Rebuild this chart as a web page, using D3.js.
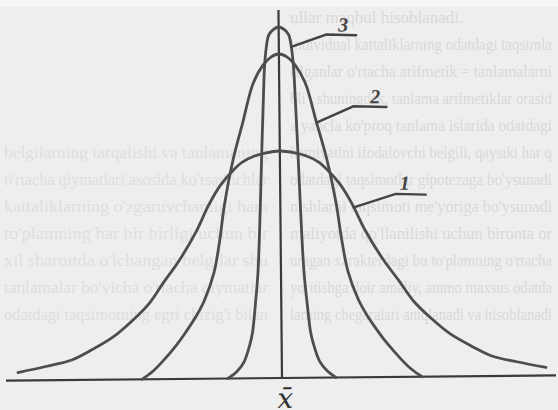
<!DOCTYPE html>
<html>
<head>
<meta charset="utf-8">
<script src="https://cdn.jsdelivr.net/npm/d3@7"></script>
<style>
  html, body { margin: 0; padding: 0; background: #eeeeee; }
  svg { display: block; }
</style>
</head>
<body>
<svg id="chart" width="558" height="410"></svg>
<script>
// Three distribution curves around a common mean x̄.
// Each curve: heights above the baseline and the half-spread at that height.
const curveNames = ["1", "2", "3"];
const curve1Height = [11.35, 11.25, 11.1, 10.8, 10.4, 9.65, 8.65, 7.4, 5.9, 4.8, 3.8, 2.9, 2.15, 1.5, 1.0, 0.7, 0.4];
const curve1Spread = [0, 0.75, 1.3, 1.9, 2.35, 3.0, 3.6, 4.2, 5.1, 5.9, 6.6, 7.5, 8.4, 9.5, 10.5, 11.75, 13.2];
const curve2Height = [16.2, 16.05, 15.65, 14.75, 12.75, 10.9, 8.65, 6.9, 5.3, 3.9, 3.15, 2.25, 1.65, 0.9, 0.4, 0];
const curve2Spread = [0, 0.4, 0.8, 1.3, 1.85, 2.35, 2.8, 3.05, 3.35, 3.85, 4.25, 4.85, 5.3, 5.95, 6.45, 7.0];
const curve3Height = [17.55, 17.4, 17.15, 16.55, 15.55, 13.9, 11.4, 8.65, 5.3, 3.65, 2.3, 1.65, 0.8, 0.35, 0];
const curve3Spread = [0, 0.3, 0.5, 0.625, 0.725, 0.8, 0.9, 1.0, 1.15, 1.3, 1.45, 1.6, 1.9, 2.25, 2.7];
// Height on each curve where its numbered leader line starts
const leaderHeight = [8.5, 12.75, 16.55];
// Extent of the horizontal axis and the mean line
const axisExtent = [-13.8, 13.7];
const meanLineTop = 18.4;
const meanLabel = "x\u0304";

// Page text lines showing faintly behind the figure
const pageLinesRight = [
  "ullar maqbul hisoblanadi.",
  "individual kattaliklarning odatdagi taqsimla",
  "rilganlar o'rtacha arifmetik = tanlamalarni",
  "bli , shuningdek, tanlama arifmetiklar orasid",
  "a yancla ko'proq tanlama islarida odatdagi",
  "hamiyatini ifodalovchi belgili, qaysiki har q",
  "odatdagi taqsimotlar gipotezaga bo'ysunadi",
  "nishlarni taqsimoti me'yoriga bo'ysunadi",
  "maliyotda qo'llanilishi uchun bironta or",
  "uragan xarakterdagi bu to'plamning o'rtacha",
  "yoritishga doir amaliy, ammo maxsus odatda",
  "larning chegaralari aniqlanadi va hisoblanadi"
];
const pageLinesLeft = [
  "", "", "", "", "",
  "belgilarning tarqalishi va tanlamaning",
  "o'rtacha qiymatlari asosida ko'rsatkichlar",
  "kattaliklarning o'zgaruvchanligi ham",
  "to'plamning har bir birligi uchun bir",
  "xil sharoitda o'lchangan belgilar shu",
  "tanlamalar bo'yicha o'rtacha qiymatlar",
  "odatdagi taqsimotning egri chizig'i bilan"
];

const width = 558, height = 410;
const svg = d3.select("#chart");

svg.append("rect").attr("width", width).attr("height", height).attr("fill", "#eeeeee");
svg.append("rect").attr("width", width).attr("height", 7).attr("fill", "#f6f6f6");

// Faint page text
const textLayer = svg.append("g")
  .attr("font-family", "'Liberation Serif', 'DejaVu Serif', serif")
  .attr("font-size", 17)
  .attr("fill", "#d9d9d9");
textLayer.selectAll("text.r").data(pageLinesRight).join("text")
  .attr("class", "r")
  .attr("x", 290)
  .attr("y", (d, i) => 23 + i * 27)
  .attr("textLength", (d, i) => i === 0 ? null : 262)
  .attr("lengthAdjust", "spacingAndGlyphs")
  .text(d => d);
textLayer.selectAll("text.l").data(pageLinesLeft).join("text")
  .attr("class", "l")
  .attr("x", 4)
  .attr("y", (d, i) => 23 + i * 27)
  .attr("textLength", d => d ? 264 : null)
  .attr("lengthAdjust", "spacingAndGlyphs")
  .attr("fill", "#dedede")
  .text(d => d);

// Scales: mean at centre, 20 px per unit both ways
const x = d3.scaleLinear().domain([-14, 14]).range([2, 562]);
const y = d3.scaleLinear().domain([0, 18.4]).range([378, 10]);

const fig = svg.append("g").attr("transform", `rotate(-0.55, ${x(0)}, ${y(0)})`);

// Baseline
fig.append("line")
  .attr("x1", x(axisExtent[0])).attr("x2", x(axisExtent[1]))
  .attr("y1", y(0)).attr("y2", y(0))
  .attr("stroke", "#3a3a3a").attr("stroke-width", 2.2);

// Mean line
fig.append("line")
  .attr("x1", x(0)).attr("x2", x(0))
  .attr("y1", y(0)).attr("y2", y(meanLineTop))
  .attr("stroke", "#3a3a3a").attr("stroke-width", 2.2);

const curves = [
  { name: curveNames[0], h: curve1Height, s: curve1Spread, at: leaderHeight[0] },
  { name: curveNames[1], h: curve2Height, s: curve2Spread, at: leaderHeight[1] },
  { name: curveNames[2], h: curve3Height, s: curve3Spread, at: leaderHeight[2] }
];

function profilePoints(c) {
  const left = c.h.map((h, i) => [-c.s[i], h]).reverse();
  const right = c.h.map((h, i) => [c.s[i], h]).slice(1);
  return left.concat(right);
}

const line = d3.line()
  .x(d => x(d[0]))
  .y(d => y(d[1]))
  .curve(d3.curveCatmullRom.alpha(0.5));

fig.selectAll("path.curve").data(curves).join("path")
  .attr("class", "curve")
  .attr("d", c => line(profilePoints(c)))
  .attr("fill", "none")
  .attr("stroke", "#4d4d4d")
  .attr("stroke-width", 2.8)
  .attr("stroke-linecap", "round");

// Leader lines with curve numbers
const leaderStyle = [
  { dx: 42, dy: -13, run: 30, lx: 9, ly: -4 },
  { dx: 37, dy: -16, run: 33, lx: 22, ly: -3 },
  { dx: 35, dy: -12, run: 30, lx: 17, ly: -3 }
];

curves.forEach((c, i) => {
  const spreadAt = d3.scaleLinear().domain(c.h).range(c.s);
  const px = x(spreadAt(c.at)), py = y(c.at);
  const st = leaderStyle[i];
  const ex = px + st.dx, ey = py + st.dy;
  fig.append("path")
    .attr("d", `M${px},${py}L${ex},${ey}L${ex + st.run},${ey + 1}`)
    .attr("fill", "none")
    .attr("stroke", "#444")
    .attr("stroke-width", 2.4)
    .attr("stroke-linecap", "round");
  fig.append("text")
    .attr("x", ex + st.lx)
    .attr("y", ey + st.ly)
    .attr("text-anchor", "middle")
    .attr("font-family", "'Liberation Serif', serif")
    .attr("font-style", "italic")
    .attr("font-weight", "bold")
    .attr("font-size", 20)
    .attr("fill", "#444")
    .text(c.name);
});

// Mean label x̄
fig.append("text")
  .attr("x", x(0) + 3)
  .attr("y", 408)
  .attr("text-anchor", "middle")
  .attr("font-family", "'DejaVu Serif', serif")
  .attr("font-style", "italic")
  .attr("font-size", 28)
  .attr("fill", "#333")
  .text(meanLabel);
</script>
</body>
</html>
